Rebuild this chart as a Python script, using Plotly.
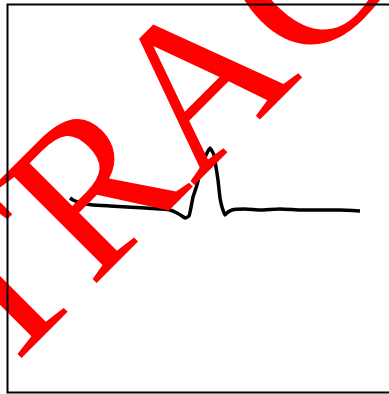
import plotly.graph_objects as go

# ECG-like trace (time in arbitrary units, amplitude in arbitrary units)
time = [70, 73, 78, 86, 93, 110, 127, 145, 160, 170, 177, 182, 185, 189, 193,
        197, 200, 204, 207, 210, 212, 214, 216, 218, 220, 222, 225, 228, 232,
        245, 260, 280, 300, 320, 340, 360]
amplitude = [12, 10, 8, 6, 5, 4, 3, 2, 1, 0, -3, -6, -8, -6, 13,
             25, 37, 50, 57, 62, 59, 55, 43, 30, 12, 3, -5, -2, 0,
             1, 0, 1, 0, 0, 0, -1]

watermark = "TRACE"

fig = go.Figure()
fig.add_trace(go.Scatter(x=time, y=amplitude, mode="lines",
                         line=dict(color="black", width=3.5, shape="spline", smoothing=0.4),
                         hoverinfo="skip", showlegend=False))

fig.update_layout(
    width=389, height=394,
    margin=dict(l=0, r=0, t=0, b=0),
    paper_bgcolor="white", plot_bgcolor="white",
    xaxis=dict(range=[0, 389], visible=False, fixedrange=True),
    yaxis=dict(range=[-184, 210], visible=False, fixedrange=True),
    shapes=[
        dict(type="rect", xref="x", yref="y", x0=179, x1=181, y0=146, y1=148,
             line=dict(width=0), fillcolor="rgba(0,0,0,0)", layer="above",
             label=dict(text=watermark, textangle=-45, textposition="middle center",
                        font=dict(family="Liberation Serif", size=216, color="#ff0000"))),
        dict(type="rect", xref="paper", yref="paper",
             x0=7.5 / 389, x1=1.3, y0=1 - 392.5 / 394, y1=1 - 4.5 / 394,
             line=dict(color="black", width=2), fillcolor="rgba(0,0,0,0)", layer="above"),
    ],
)

fig.write_html("out.html", config={"displayModeBar": False},
               post_script="document.body.style.margin='0';document.body.style.padding='0';")
